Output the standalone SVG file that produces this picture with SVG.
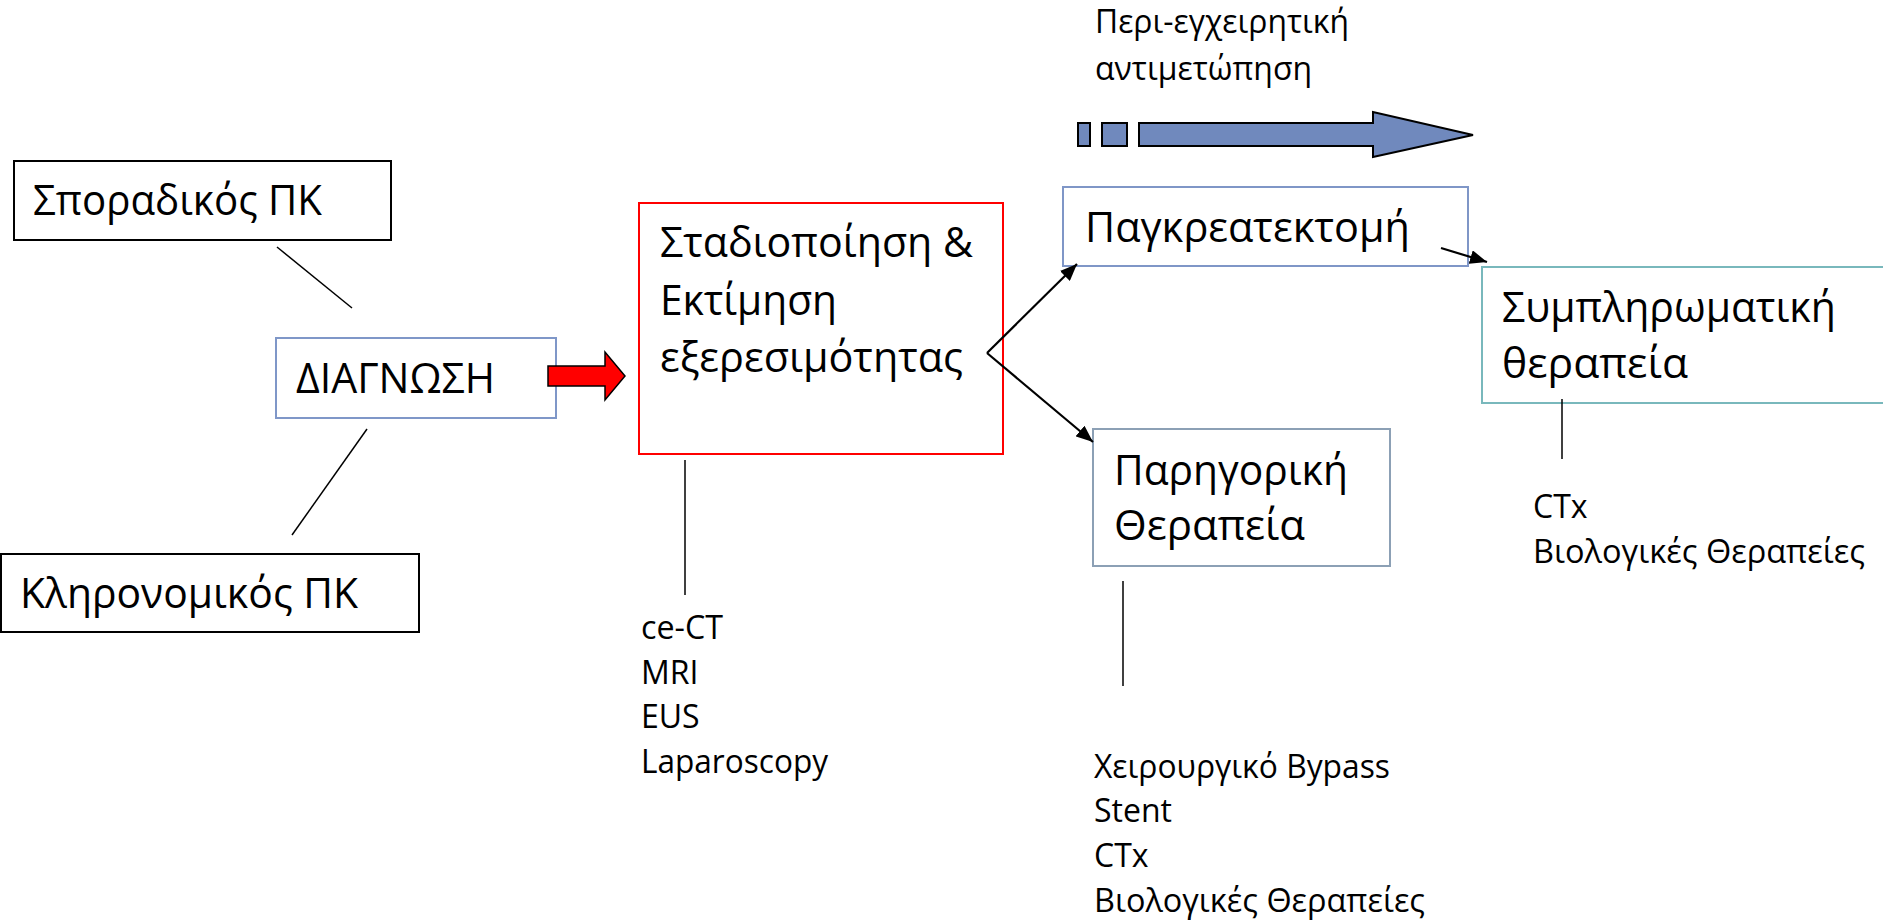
<svg xmlns="http://www.w3.org/2000/svg" width="1883" height="923" viewBox="0 0 1883 923">
<style>
text{font-family:"Open Sans","Noto Sans","DejaVu Sans",sans-serif;fill:#000}
.big{font-size:42px}
.sm{font-size:32px}
.box{fill:#fff;stroke-width:2}
.conn{stroke:#000;stroke-width:1.5;fill:none}
.arr{stroke:#000;stroke-width:2.2;fill:none;marker-end:url(#ah)}
</style>
<defs>
<marker id="ah" markerUnits="userSpaceOnUse" markerWidth="18" markerHeight="14" refX="17" refY="7" orient="auto">
<path d="M0,0 L17,7 L0,14 z" fill="#000"/>
</marker>
</defs>
<rect width="1883" height="923" fill="#fff"/>

<g id="periop">
<text class="sm" x="1095" y="33" textLength="254" lengthAdjust="spacingAndGlyphs">Περι-εγχειρητική</text>
<text class="sm" x="1095" y="80" textLength="217" lengthAdjust="spacingAndGlyphs">αντιμετώπηση</text>
<g fill="#7089BD" stroke="#000" stroke-width="2">
<rect x="1078" y="123" width="12" height="23"/>
<rect x="1102" y="123" width="25" height="23"/>
<polygon points="1139,123 1373,123 1373,112 1473,135 1373,157 1373,146 1139,146"/>
</g>
</g>

<g id="sporadikos">
<rect class="box" x="14" y="161" width="377" height="79" stroke="#000" stroke-width="1.5"/>
<text class="big" x="33" y="215" textLength="289" lengthAdjust="spacingAndGlyphs">Σποραδικός ΠΚ</text>
</g>

<g id="diagnosi">
<rect class="box" x="276" y="338" width="280" height="80" stroke="#7F97C8"/>
<text class="big" x="296" y="393" textLength="199" lengthAdjust="spacingAndGlyphs">ΔΙΑΓΝΩΣΗ</text>
</g>

<g id="klironomikos">
<rect class="box" x="1" y="554" width="418" height="78" stroke="#000" stroke-width="1.5"/>
<text class="big" x="20" y="608" textLength="338" lengthAdjust="spacingAndGlyphs">Κληρονομικός ΠΚ</text>
</g>

<g id="stadiopoiisi">
<rect class="box" x="639" y="203" width="364" height="251" stroke="#FF0000"/>
<text class="big" x="660" y="257" textLength="313" lengthAdjust="spacingAndGlyphs">Σταδιοποίηση &amp;</text>
<text class="big" x="660" y="315" textLength="177" lengthAdjust="spacingAndGlyphs">Εκτίμηση</text>
<text class="big" x="660" y="372" textLength="303" lengthAdjust="spacingAndGlyphs">εξερεσιμότητας</text>
</g>

<g id="stadio-list">
<text class="sm" x="641" y="639" textLength="82" lengthAdjust="spacingAndGlyphs">ce-CT</text>
<text class="sm" x="641" y="684">MRI</text>
<text class="sm" x="641" y="728">EUS</text>
<text class="sm" x="641" y="773" textLength="187" lengthAdjust="spacingAndGlyphs">Laparoscopy</text>
</g>

<g id="pagkreatektomi">
<rect class="box" x="1063" y="187" width="405" height="79" stroke="#7F96C7"/>
<text class="big" x="1085" y="242" textLength="325" lengthAdjust="spacingAndGlyphs">Παγκρεατεκτομή</text>
</g>

<g id="parigoriki">
<rect class="box" x="1093" y="429" width="297" height="137" stroke="#8CA0B5"/>
<text class="big" x="1114" y="485" textLength="234" lengthAdjust="spacingAndGlyphs">Παρηγορική</text>
<text class="big" x="1114" y="540" textLength="191" lengthAdjust="spacingAndGlyphs">Θεραπεία</text>
</g>

<g id="parigoriki-list">
<text class="sm" x="1094" y="778" textLength="296" lengthAdjust="spacingAndGlyphs">Χειρουργικό Bypass</text>
<text class="sm" x="1094" y="822">Stent</text>
<text class="sm" x="1094" y="867">CTx</text>
<text class="sm" x="1094" y="912" textLength="331" lengthAdjust="spacingAndGlyphs">Βιολογικές Θεραπείες</text>
</g>

<g id="symplirwmatiki">
<rect class="box" x="1482" y="267" width="420" height="136" stroke="#79B8BC"/>
<text class="big" x="1502" y="322" textLength="334" lengthAdjust="spacingAndGlyphs">Συμπληρωματική</text>
<text class="big" x="1502" y="378" textLength="186" lengthAdjust="spacingAndGlyphs">θεραπεία</text>
</g>

<g id="symplirwmatiki-list">
<text class="sm" x="1533" y="518">CTx</text>
<text class="sm" x="1533" y="563" textLength="332" lengthAdjust="spacingAndGlyphs">Βιολογικές Θεραπείες</text>
</g>

<g id="connectors">
<line class="conn" x1="277" y1="247" x2="352" y2="308"/>
<line class="conn" x1="367" y1="429" x2="292" y2="535"/>
<line class="conn" x1="685" y1="460" x2="685" y2="595"/>
<line class="conn" x1="1123" y1="581" x2="1123" y2="686"/>
<line class="conn" x1="1562" y1="399" x2="1562" y2="459"/>
<polygon points="548,366 605,366 605,352 625,376 605,400 605,386 548,386" fill="#FF0000" stroke="#000" stroke-width="1.5"/>
<line class="arr" x1="987" y1="353" x2="1077" y2="264"/>
<line class="arr" x1="987" y1="353" x2="1093" y2="442"/>
<line class="arr" x1="1441" y1="248" x2="1487" y2="262"/>
</g>
</svg>
